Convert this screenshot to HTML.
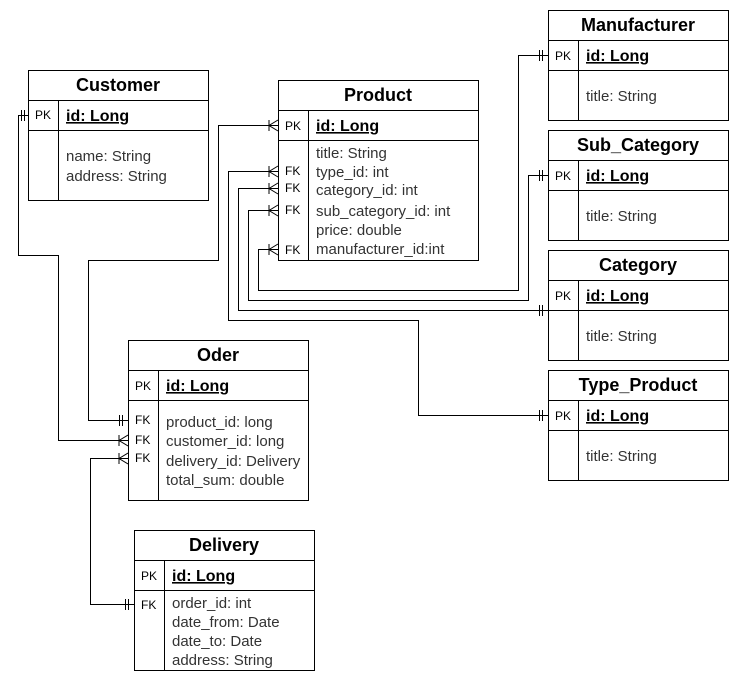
<!DOCTYPE html>
<html><head><meta charset="utf-8"><style>
html,body{margin:0;padding:0;background:#fff;}
svg{display:block;font-family:"Liberation Sans",Arial,sans-serif;}
.t{font-size:18px;font-weight:bold;text-anchor:middle;fill:#000;}
.pk{font-size:12px;fill:#000;}
.id{font-size:16px;font-weight:bold;text-decoration:underline;fill:#000;}
.f{font-size:15px;fill:#333;}
rect,line,path{stroke:#000;stroke-width:1;fill:none;}
</style></head><body>
<svg width="740" height="682" viewBox="0 0 740 682" xmlns="http://www.w3.org/2000/svg">
<rect x="0" y="0" width="740" height="682" style="fill:#fff;stroke:none"/>
<!-- connectors -->
<path d="M28.5 115.5H18.5V255.5H58.5V440.5H128"/>
<path d="M278 125.5H218.5V260.5H88.5V420.5H128"/>
<path d="M128 458.5H90.5V604.5H134"/>
<path d="M278 171.5H228.5V320.5H418.5V415.5H548"/>
<path d="M278 188.5H238.5V310.5H548"/>
<path d="M278 210.5H248.5V300.5H528.5V175.5H548"/>
<path d="M278 249.5H258.5V290.5H518.5V55.5H548"/>
<!-- ends: crow's feet -->
<g>
<path d="M278 120L269 125.5L278 131M269 120V131"/>
<path d="M278 166L269 171.5L278 177M269 166V177"/>
<path d="M278 183L269 188.5L278 194M269 183V194"/>
<path d="M278 205L269 210.5L278 216M269 205V216"/>
<path d="M278 244L269 249.5L278 255M269 244V255"/>
<path d="M128 435L119 440.5L128 446M119 435V446"/>
<path d="M128 453L119 458.5L128 464M119 453V464"/>
</g>
<!-- ends: one -->
<g>
<path d="M21.5 110V121M24.5 110V121"/>
<path d="M119.5 415V426M122.5 415V426"/>
<path d="M125.5 599V610M128.5 599V610"/>
<path d="M539.5 50V61M542.5 50V61"/>
<path d="M539.5 170V181M542.5 170V181"/>
<path d="M539.5 305V316M542.5 305V316"/>
<path d="M539.5 410V421M542.5 410V421"/>
</g>
<!-- Customer -->
<rect x="28.5" y="70.5" width="180" height="130"/>
<line x1="28" y1="100.5" x2="208" y2="100.5"/><line x1="28" y1="130.5" x2="208" y2="130.5"/><line x1="58.5" y1="100" x2="58.5" y2="200"/>
<text class="t" x="118" y="91">Customer</text>
<text class="pk" x="35" y="119">PK</text><text class="id" x="66" y="121">id: Long</text>
<text class="f" x="66" y="161">name: String</text><text class="f" x="66" y="181">address: String</text>
<!-- Product -->
<rect x="278.5" y="80.5" width="200" height="180"/>
<line x1="278" y1="110.5" x2="478" y2="110.5"/><line x1="278" y1="140.5" x2="478" y2="140.5"/><line x1="308.5" y1="110" x2="308.5" y2="260"/>
<text class="t" x="378" y="101">Product</text>
<text class="pk" x="285" y="130">PK</text><text class="id" x="316" y="131">id: Long</text>
<text class="f" x="316" y="158">title: String</text>
<text class="f" x="316" y="177">type_id: int</text>
<text class="f" x="316" y="195">category_id: int</text>
<text class="f" x="316" y="216">sub_category_id: int</text>
<text class="f" x="316" y="235">price: double</text>
<text class="f" x="316" y="254">manufacturer_id:int</text>
<text class="pk" x="285" y="175">FK</text><text class="pk" x="285" y="192">FK</text><text class="pk" x="285" y="214">FK</text><text class="pk" x="285" y="254">FK</text>
<!-- Manufacturer -->
<rect x="548.5" y="10.5" width="180" height="110"/>
<line x1="548" y1="40.5" x2="728" y2="40.5"/><line x1="548" y1="70.5" x2="728" y2="70.5"/><line x1="578.5" y1="40" x2="578.5" y2="120"/>
<text class="t" x="638" y="31">Manufacturer</text>
<text class="pk" x="555" y="60">PK</text><text class="id" x="586" y="61">id: Long</text>
<text class="f" x="586" y="101">title: String</text>
<!-- Sub_Category -->
<rect x="548.5" y="130.5" width="180" height="110"/>
<line x1="548" y1="160.5" x2="728" y2="160.5"/><line x1="548" y1="190.5" x2="728" y2="190.5"/><line x1="578.5" y1="160" x2="578.5" y2="240"/>
<text class="t" x="638" y="151">Sub_Category</text>
<text class="pk" x="555" y="180">PK</text><text class="id" x="586" y="181">id: Long</text>
<text class="f" x="586" y="221">title: String</text>
<!-- Category -->
<rect x="548.5" y="250.5" width="180" height="110"/>
<line x1="548" y1="280.5" x2="728" y2="280.5"/><line x1="548" y1="310.5" x2="728" y2="310.5"/><line x1="578.5" y1="280" x2="578.5" y2="360"/>
<text class="t" x="638" y="271">Category</text>
<text class="pk" x="555" y="300">PK</text><text class="id" x="586" y="301">id: Long</text>
<text class="f" x="586" y="341">title: String</text>
<!-- Type_Product -->
<rect x="548.5" y="370.5" width="180" height="110"/>
<line x1="548" y1="400.5" x2="728" y2="400.5"/><line x1="548" y1="430.5" x2="728" y2="430.5"/><line x1="578.5" y1="400" x2="578.5" y2="480"/>
<text class="t" x="638" y="391">Type_Product</text>
<text class="pk" x="555" y="420">PK</text><text class="id" x="586" y="421">id: Long</text>
<text class="f" x="586" y="461">title: String</text>
<!-- Oder -->
<rect x="128.5" y="340.5" width="180" height="160"/>
<line x1="128" y1="370.5" x2="308" y2="370.5"/><line x1="128" y1="400.5" x2="308" y2="400.5"/><line x1="158.5" y1="370" x2="158.5" y2="500"/>
<text class="t" x="218" y="361">Oder</text>
<text class="pk" x="135" y="390">PK</text><text class="id" x="166" y="391">id: Long</text>
<text class="f" x="166" y="427">product_id: long</text>
<text class="f" x="166" y="446">customer_id: long</text>
<text class="f" x="166" y="466">delivery_id: Delivery</text>
<text class="f" x="166" y="485">total_sum: double</text>
<text class="pk" x="135" y="424">FK</text><text class="pk" x="135" y="444">FK</text><text class="pk" x="135" y="462">FK</text>
<!-- Delivery -->
<rect x="134.5" y="530.5" width="180" height="140"/>
<line x1="134" y1="560.5" x2="314" y2="560.5"/><line x1="134" y1="590.5" x2="314" y2="590.5"/><line x1="164.5" y1="560" x2="164.5" y2="670"/>
<text class="t" x="224" y="551">Delivery</text>
<text class="pk" x="141" y="580">PK</text><text class="id" x="172" y="581">id: Long</text>
<text class="f" x="172" y="608">order_id: int</text>
<text class="f" x="172" y="627">date_from: Date</text>
<text class="f" x="172" y="646">date_to: Date</text>
<text class="f" x="172" y="665">address: String</text>
<text class="pk" x="141" y="609">FK</text>
</svg>
</body></html>
